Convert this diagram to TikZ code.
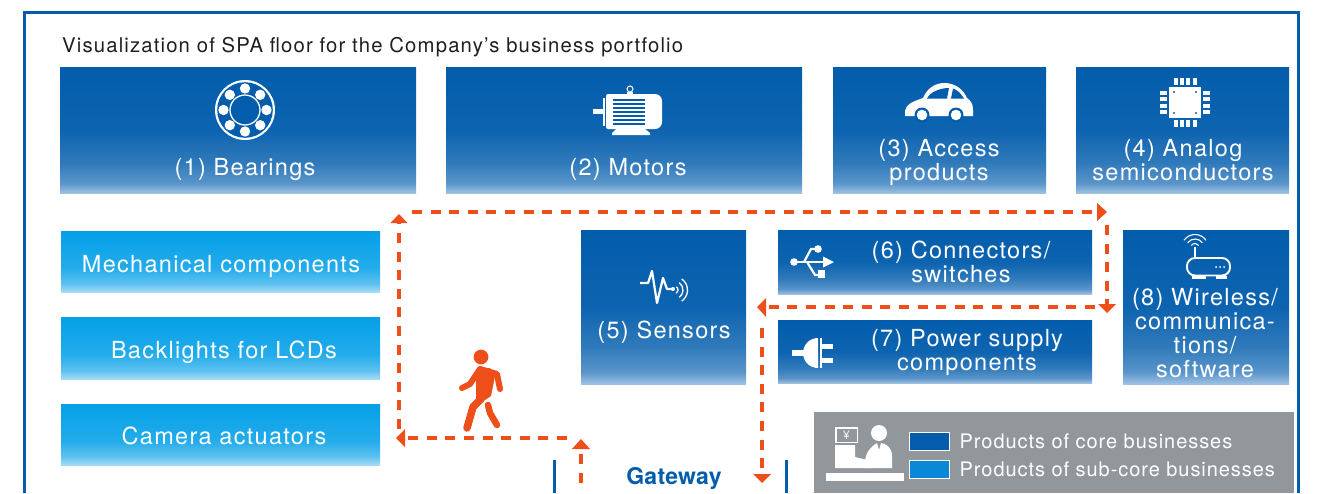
\documentclass[tikz,border=0pt]{standalone}
\usepackage{fontspec}
\setmainfont{TeX Gyre Heros}
\usepackage{tikz}
\usetikzlibrary{positioning,shadings}
\definecolor{coreblue}{HTML}{035DAC}
\definecolor{corefade}{HTML}{A0C2E2}
\definecolor{subblue}{HTML}{05A0E8}
\definecolor{subfade}{HTML}{A6DCF7}
\definecolor{keyblue}{HTML}{0A87D6}
\definecolor{routeorange}{HTML}{EE4E19}
\definecolor{floorgrey}{HTML}{92979C}
% the box is fitted to the range 25bp to 75bp of a shading
\pgfdeclareverticalshading{coreshade}{100bp}{color(0bp)=(corefade); color(25bp)=(corefade); color(29bp)=(corefade!55!coreblue); color(37bp)=(coreblue!82!white); color(50bp)=(coreblue!96!white); color(75bp)=(coreblue); color(100bp)=(coreblue)}
\pgfdeclareverticalshading{subshade}{100bp}{color(0bp)=(subfade); color(25bp)=(subfade); color(32bp)=(subfade!55!subblue); color(45bp)=(subblue!88!white); color(75bp)=(subblue); color(100bp)=(subblue)}
\tikzset{
  corebox/.style={draw=none,shading=coreshade,anchor=north west,inner sep=0pt},
  subbox/.style={draw=none,shading=subshade,anchor=north west,inner sep=0pt},
  boxlabel/.style={text=white,inner sep=0pt,align=center,font=\fontsize{23.5pt}{24pt}\selectfont\addfontfeature{LetterSpace=5.5}},
  route/.style={draw=routeorange,line width=3.3pt,dash pattern=on 10pt off 8.6pt},
  routetip/.style={fill=routeorange,draw=none},
  keybox/.style={anchor=north west,draw=white,line width=1pt,minimum width=40pt,minimum height=18pt,inner sep=0pt},
  keylabel/.style={inner sep=0pt,text=white,font=\fontsize{20pt}{22pt}\selectfont\addfontfeature{LetterSpace=4.7}}
}
% one unit is one pixel of the reference
\begin{document}
\begin{tikzpicture}[x=1pt,y=-1pt]
\useasboundingbox (0,0) rectangle (1336,493);
\draw[coreblue,line width=2.8pt] (24.5,493) -- (24.5,12.5) -- (1298.5,12.5) -- (1298.5,493);
\node[anchor=west,inner sep=0pt,font=\fontsize{20.3pt}{22pt}\selectfont\addfontfeature{LetterSpace=5.7},text=black!88] (title) at (62,47.5) {Visualization of SPA floor for the Company’s business portfolio};
% top row
\node[corebox,minimum width=356pt,minimum height=126pt] (bearings) at (60,67) {};
\node[corebox,minimum width=356pt,minimum height=126pt] (motors) at (446,67) {};
\node[corebox,minimum width=213pt,minimum height=126pt] (access) at (833,67) {};
\node[corebox,minimum width=213pt,minimum height=126pt] (analog) at (1076,67) {};
\node[boxlabel] (bearingstext) at (245,169) {(1) Bearings};
\node[boxlabel] (motorstext) at (628,169) {(2) Motors};
\node[boxlabel] (accesstext) at (939,162) {(3) Access\\products};
\node[boxlabel] (analogtext) at (1183,160) {(4) Analog\\semiconductors};
% left column
\node[subbox,minimum width=319pt,minimum height=61pt] (mech) at (61,231) {};
\node[subbox,minimum width=319pt,minimum height=62pt] (back) at (61,317) {};
\node[subbox,minimum width=319pt,minimum height=61pt] (camera) at (61,404) {};
\node[boxlabel] (mechtext) at (221,266) {Mechanical components};
\node[boxlabel] (backtext) at (224,352) {Backlights for LCDs};
\node[boxlabel] (cameratext) at (224,436) {Camera actuators};
% middle group
\node[corebox,minimum width=165pt,minimum height=154pt] (sensors) at (581,230) {};
\node[corebox,minimum width=314pt,minimum height=64pt] (connectors) at (778,230) {};
\node[corebox,minimum width=314pt,minimum height=63pt] (power) at (778,320) {};
\node[corebox,minimum width=166pt,minimum height=154pt] (wireless) at (1123,230) {};
\node[boxlabel] (sensorstext) at (664,332) {(5) Sensors};
\node[boxlabel] (connectorstext) at (961,262) {(6) Connectors/\\switches};
\node[boxlabel] (powertext) at (967,352) {(7) Power supply\\components};
\node[boxlabel] (wirelesstext) at (1205,333) {(8) Wireless/\\communica-\\tions/\\software};
% bearing icon
\fill[white] (245,110) circle (30);
\fill[coreblue] (245,110) circle (27.8);
\foreach \a in {0,45,...,315} \fill[white] (245,110) ++(\a:21.5) circle (5.2);
\draw[white,line width=1.3pt] (245,110) circle (15);
% motor icon
\fill[white] (608,94) -- (655,94) arc (-90:0:7) -- (662,122) arc (0:90:7) -- (608,129) arc (90:180:2) -- (606,96) arc (180:270:2) -- cycle;
\fill[white] (616,129) -- (645,129) -- (650,133) -- (650,135) -- (612,135) -- (612,133) -- cycle;
\fill[white] (603,98) rectangle (605,126);
\fill[white] (593,109) rectangle (603,114);
\draw[white,line width=1pt] (630,89) circle (3);
\fill[white] (627,92) rectangle (633,95);
\foreach \y in {98.5,102.5,...,122.5} \fill[coreblue] (613,\y) rectangle (645,\y+2.6);
% car icon
\fill[white] (905,116) -- (905,111) .. controls (906,104) and (912,102) .. (923,98) .. controls (928,86) and (938,83) .. (944,83) .. controls (955,83) and (963,89) .. (967,98) .. controls (971,101) and (973,104) .. (973,110) -- (973,116) -- cycle;
\fill[coreblue] (927,98.5) .. controls (930,92) and (940,88) .. (949,88) -- (947,98.5) -- cycle;
\fill[coreblue] (951,98.5) -- (953,88.5) .. controls (958,90) and (961,94) .. (964,98.5) -- cycle;
\foreach \x in {922,956} {\fill[coreblue] (\x,115) circle (7.5); \fill[white] (\x,115) circle (5.3);}
% chip icon
\fill[white] (1169,87) rectangle (1201,118);
\foreach \x in {1174,1180,1186,1192.5} {\fill[white] (\x,78) rectangle +(4.3,7); \fill[white] (\x,120) rectangle +(4.3,7);}
\foreach \y in {91,97,103.5,110} {\fill[white] (1160,\y) rectangle +(7,4); \fill[white] (1203,\y) rectangle +(7,4);}
\foreach \x in {1174,1196} {\fill[coreblue] (\x,92) circle (1.2); \fill[coreblue] (\x,113) circle (1.2);}
% sensor icon
\draw[white,line width=2.2pt,line join=round] (640,283) -- (648,283) -- (652,271) -- (657,303) -- (663,278) -- (667,289) -- (673,289);
\fill[white] (673,289) circle (2);
\foreach \r in {4,9,13.5} \draw[white,line width=1.3pt] (674,290) ++(-55:\r) arc (-55:55:\r);
% usb icon
\draw[white,line width=2.2pt] (793,262) -- (826,262);
\draw[white,line width=2.2pt] (804,262) -- (811,249) -- (818,249);
\draw[white,line width=2.2pt] (807,262) -- (815,275) -- (822,275);
\fill[white] (794,262) circle (3.8);
\fill[white] (818,249) circle (3.8);
\fill[white] (818,270) rectangle (825,278);
\fill[white] (823,256.5) -- (834,262) -- (823,267.5) -- cycle;
% plug icon
\fill[white] (818,338) arc (-90:-270:15) -- cycle;
\fill[white] (792,350) rectangle (806,356);
\fill[white] (819.5,338) rectangle (822,368);
\fill[white] (820,344) rectangle (833,349);
\fill[white] (820,358) rectangle (833,363);
% router icon
\draw[white,line width=1.9pt,rounded corners=8pt] (1187,258) rectangle (1230,275.5);
\fill[white] (1192,276) rectangle (1206,279);
\fill[white] (1216,276) rectangle (1227,279);
\draw[white,line width=1.8pt] (1195,247) -- (1195,258);
\foreach \r in {4.5,9,13.5} \draw[white,line width=1.1pt] (1195,248) ++(-145:\r) arc (-145:-35:\r);
\foreach \x in {1216,1220,1224} \fill[white] (\x,267) circle (1);
% route
\coordinate (routegate) at (581,483);
\coordinate (routecorner) at (581,449);
\coordinate (routeright) at (567,438);
\coordinate (routeleft) at (405,438);
\coordinate (routeup) at (399,429);
\coordinate (routetop) at (399,223);
\coordinate (routestart) at (412,212);
\coordinate (routeend) at (1097,212);
\coordinate (routedown) at (1107,225);
\coordinate (routemid) at (1107,304);
\coordinate (routeback) at (1095,307);
\coordinate (routeturn) at (766,307);
\coordinate (routefall) at (762,328);
\coordinate (routeexit) at (762,474);
\draw[route] (routegate) -- (routecorner);
\draw[route] (routeright) -- (routeleft);
\draw[route] (routeup) -- (routetop);
\draw[route] (routestart) -- (routeend);
\draw[route] (routedown) -- (routemid);
\draw[route] (routeback) -- (routeturn);
\draw[route] (routefall) -- (routeexit);
\fill[routetip] (572,449) -- (581,439) -- (590,449) -- cycle;
\fill[routetip] (396,438) -- (405,429) -- (405,447) -- cycle;
\fill[routetip] (399,214) -- (390.5,223) -- (407.5,223) -- cycle;
\fill[routetip] (1107,212) -- (1097,203) -- (1097,221) -- cycle;
\fill[routetip] (1107,313) -- (1098,304) -- (1116,304) -- cycle;
\fill[routetip] (757,307) -- (766,298) -- (766,317) -- cycle;
\fill[routetip] (762,483) -- (753,474) -- (771,474) -- cycle;
% walker
\fill[routeorange] (481,357) circle (7.4);
\draw[routeorange,line width=6pt,line cap=round,line join=round] (462,388) -- (470,384) -- (480,369) -- (497,374) -- (500,389);
\fill[routeorange] (476,370) -- (490,368) -- (495,376) -- (491,396) -- (476,406) -- cycle;
\draw[routeorange,line width=7.5pt,line cap=round,line join=round] (481,399) -- (473,407) -- (467,428);
\draw[routeorange,line width=6.5pt,line cap=round,line join=round] (488,405) -- (490,413) -- (497,425);
% gateway
\draw[coreblue,line width=2.2pt] (554.5,460) -- (554.5,493);
\draw[coreblue,line width=2.2pt] (786.5,460) -- (786.5,493);
\node[inner sep=0pt,text=coreblue,font=\bfseries\fontsize{23pt}{24pt}\selectfont\addfontfeature{LetterSpace=1}] (gateway) at (674,478) {Gateway};
% legend
\node[anchor=north west,fill=floorgrey,inner sep=0pt,minimum width=480pt,minimum height=81pt] (legend) at (814,412) {};
\fill[white] (826,473) rectangle (904,481);
\fill[white] (835,427) rectangle (858,443);
\fill[floorgrey] (836.5,428.5) rectangle (856.5,441.5);
\node[inner sep=0pt,text=white,font=\fontsize{12pt}{12pt}\selectfont] (yen) at (846.5,435) {¥};
\fill[white] (835,445) -- (855,445) -- (855,457) -- (872,461) -- (872,468) -- (835,468) -- cycle;
\fill[white] (879,433) circle (8);
\fill[white] (865,468) -- (865,461) .. controls (866,451) and (872,446) .. (877,443) -- (879,450) -- (881,443) .. controls (887,444) and (892,448) .. (892,456) -- (892,468) -- cycle;
\node[keybox,fill=coreblue] (corekey) at (908.5,431.5) {};
\node[keybox,fill=keyblue] (subkey) at (908.5,459.5) {};
\node[keylabel,right=10pt of corekey.east] (coretext) {Products of core businesses};
\node[keylabel,right=10pt of subkey.east] (subtext) {Products of sub-core businesses};
\end{tikzpicture}
\end{document}
